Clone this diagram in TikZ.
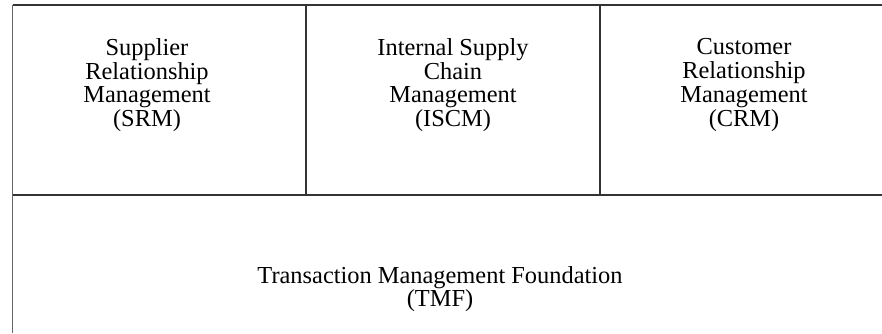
\documentclass[tikz,border=0pt]{standalone}
\usepackage{fontspec}
\setmainfont{Liberation Serif}
\usetikzlibrary{positioning}
\tikzset{M node/.style={align=center,inner sep=0pt,font=\fontsize{18.3}{17.8}\selectfont},
	M line/.style={draw=black!80,line width=1.1pt},}

\begin{document}
\begin{tikzpicture}[x=0.75pt,y=-0.75pt]
			\useasboundingbox (0,0) rectangle (882,333);

			\coordinate (tl) at (12.5,5);
			\coordinate (tr) at (882,5);
			\coordinate (ml) at (12.5,195);
			\coordinate (mr) at (882,195);
			\coordinate (bl) at (12.5,333);
			\coordinate (a) at (306,5);
			\coordinate (b) at (600,5);
			\coordinate (am) at (306,195);
			\coordinate (bm) at (600,195);

			\path[M line]
				(tl) -- (tr)
				(ml) -- (mr)
				(a) -- (am)
				(b) -- (bm);
			\draw[draw=black!60,line width=1.1pt] (tl) -- (bl);

			\node[M node] (srm) at (147,85) {Supplier\\Relationship\\Management\\(SRM)};
			\node[M node] (iscm) at (453,85) {Internal Supply\\Chain\\Management\\(ISCM)};
			\node[M node] (crm) at (744,85) {Customer\\Relationship\\Management\\(CRM)};
			\node[M node] (tmf) at (440,289) {Transaction Management Foundation\\(TMF)};
		\end{tikzpicture}
\end{document}
